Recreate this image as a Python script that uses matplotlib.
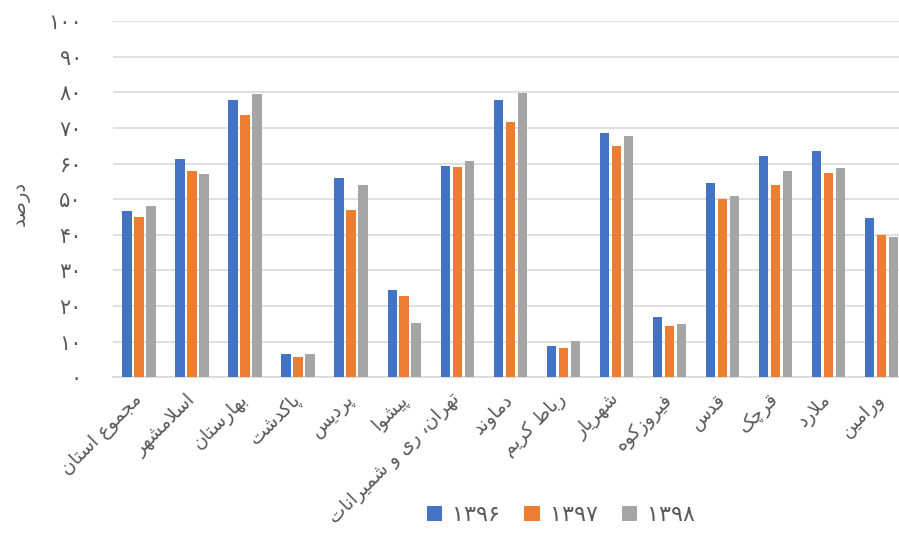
import matplotlib
matplotlib.use('Agg')
import matplotlib.pyplot as plt
import matplotlib.transforms as mtransforms
from matplotlib.patches import Patch
import numpy as np

# data (percent)
regions = ['مجموع استان', 'اسلامشهر', 'بهارستان', 'پاکدشت', 'پردیس', 'پیشوا',
           'تهران، ری و شمیرانات', 'دماوند', 'رباط کریم', 'شهریار', 'فیروزکوه',
           'قدس', 'قرچک', 'ملارد', 'ورامین']
years = ['۱۳۹۶', '۱۳۹۷', '۱۳۹۸']
v1396 = [46.7, 61.3, 77.9, 6.5, 55.8, 24.4, 59.3, 77.9, 8.8, 68.5, 16.9, 54.5, 62.1, 63.5, 44.6]
v1397 = [45.0, 57.8, 73.7, 5.8, 46.9, 22.8, 59.1, 71.7, 8.3, 65.0, 14.5, 50.1, 54.1, 57.3, 40.0]
v1398 = [48.0, 57.1, 79.6, 6.6, 54.1, 15.3, 60.7, 79.7, 10.2, 67.8, 15.0, 51.0, 57.8, 58.8, 39.4]
yticks = [0, 10, 20, 30, 40, 50, 60, 70, 80, 90, 100]
ytick_labels = ['۰', '۱۰', '۲۰', '۳۰', '۴۰', '۵۰', '۶۰', '۷۰', '۸۰', '۹۰', '۱۰۰']
ylabel = 'درصد'

colors = ['#4472C4', '#ED7D31', '#A5A5A5']
text_color = '#595959'

# matplotlib has no arabic shaping / bidi, so do it by hand
# (isolated, final, initial, medial)
FORMS = {
    'ا': (0xFE8D, 0xFE8E), 'د': (0xFEA9, 0xFEAA), 'ر': (0xFEAD, 0xFEAE),
    'ز': (0xFEAF, 0xFEB0), 'و': (0xFEED, 0xFEEE),
    'ب': (0xFE8F, 0xFE90, 0xFE91, 0xFE92), 'ت': (0xFE95, 0xFE96, 0xFE97, 0xFE98),
    'ج': (0xFE9D, 0xFE9E, 0xFE9F, 0xFEA0), 'س': (0xFEB1, 0xFEB2, 0xFEB3, 0xFEB4),
    'ش': (0xFEB5, 0xFEB6, 0xFEB7, 0xFEB8), 'ص': (0xFEB9, 0xFEBA, 0xFEBB, 0xFEBC),
    'ط': (0xFEC1, 0xFEC2, 0xFEC3, 0xFEC4), 'ع': (0xFEC9, 0xFECA, 0xFECB, 0xFECC),
    'ف': (0xFED1, 0xFED2, 0xFED3, 0xFED4), 'ق': (0xFED5, 0xFED6, 0xFED7, 0xFED8),
    'ل': (0xFEDD, 0xFEDE, 0xFEDF, 0xFEE0), 'م': (0xFEE1, 0xFEE2, 0xFEE3, 0xFEE4),
    'ن': (0xFEE5, 0xFEE6, 0xFEE7, 0xFEE8), 'ه': (0xFEE9, 0xFEEA, 0xFEEB, 0xFEEC),
    'ی': (0xFBFC, 0xFBFD, 0xFBFE, 0xFBFF), 'ک': (0xFB8E, 0xFB8F, 0xFB90, 0xFB91),
    'پ': (0xFB56, 0xFB57, 0xFB58, 0xFB59), 'چ': (0xFB7A, 0xFB7B, 0xFB7C, 0xFB7D),
}


def joins_next(ch):
    return ch in FORMS and len(FORMS[ch]) == 4


def shape(text):
    out = []
    i = 0
    while i < len(text):
        c = text[i]
        prev_ok = i > 0 and joins_next(text[i - 1])
        if c == 'ل' and i + 1 < len(text) and text[i + 1] == 'ا':
            out.append('\uFEFC' if prev_ok else '\uFEFB')
            i += 2
            continue
        if c not in FORMS:
            out.append(c)
            i += 1
            continue
        next_ok = joins_next(c) and i + 1 < len(text) and text[i + 1] in FORMS
        f = FORMS[c]
        if prev_ok and next_ok:
            out.append(chr(f[3]))
        elif prev_ok:
            out.append(chr(f[1]))
        elif next_ok:
            out.append(chr(f[2]))
        else:
            out.append(chr(f[0]))
        i += 1
    return ''.join(reversed(out))


fig = plt.figure(figsize=(8.99, 5.35), dpi=100)
ax = fig.add_axes([112.5 / 899, 1 - 377.3 / 535, 795.6 / 899, 356.3 / 535])

x = np.arange(len(regions))
offsets = [-0.226, 0, 0.226]
for vals, off, col in zip([v1396, v1397, v1398], offsets, colors):
    ax.bar(x + off, vals, width=0.178, color=col, zorder=3)

ax.set_xlim(-0.5, len(regions) - 0.5)
ax.set_ylim(0, 100)
ax.set_yticks(yticks)
ax.set_yticklabels(ytick_labels, fontsize=15, color=text_color)
# tick labels sit a little above their gridlines in the original
shift = mtransforms.ScaledTranslation(0, 5 / 100, fig.dpi_scale_trans)
for lab in ax.get_yticklabels():
    lab.set_transform(lab.get_transform() + shift)
ax.set_xticks(x)
ax.set_xticklabels([shape(r) for r in regions], rotation=45, ha='right',
                   va='center', rotation_mode='anchor', fontsize=13.5, color=text_color)
ax.tick_params(axis='y', length=0, pad=22)
ax.tick_params(axis='x', length=0, pad=14)
ax.yaxis.grid(True, color='#D9D9D9', linewidth=1.2, zorder=0)
for s in ['top', 'right', 'left']:
    ax.spines[s].set_visible(False)
ax.spines['bottom'].set_color('#D9D9D9')
ax.spines['bottom'].set_linewidth(1.2)

fig.text(20 / 899, 1 - 203 / 535, shape(ylabel), rotation=90, ha='center', va='center',
         fontsize=14, color=text_color)

handles = [Patch(facecolor=c) for c in colors]
fig.legend(handles, years, loc='center', bbox_to_anchor=(561 / 899, 1 - 515 / 535), ncol=3,
           frameon=False, fontsize=16, labelcolor=text_color, handlelength=0.68,
           handleheight=0.68, columnspacing=1.1, handletextpad=0.45)

fig.savefig('out.png', dpi=100)
